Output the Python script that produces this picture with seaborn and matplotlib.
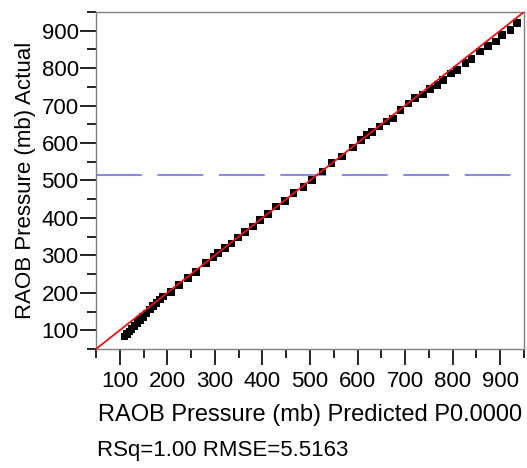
import numpy as np
import matplotlib
matplotlib.use("Agg")
import matplotlib.pyplot as plt
import matplotlib.ticker as mticker
import seaborn as sns

# ── data ─────────────────────────────────────────────────────────────────────
predicted = [110, 115, 120, 125, 131, 137, 143, 149, 156, 163, 170, 177, 184, 191,
             208, 225, 243, 260, 281, 297, 307, 321, 335, 349, 363, 380, 395, 412,
             429, 447, 465, 486, 504, 526, 545, 567, 590, 607, 619, 630, 646, 661,
             675, 690, 707, 721, 738, 752, 768, 780, 796, 809, 827, 840, 858, 874,
             891, 904, 922, 935]
actual = [83, 90, 97, 104, 112, 120, 128, 136, 145, 155, 164, 173, 182, 190,
          203, 221, 239, 256, 279, 295, 306, 319, 332, 348, 363, 377, 395, 411,
          430, 446, 466, 483, 502, 524, 546, 564, 588, 608, 622, 630, 644, 657,
          666, 688, 706, 720, 730, 744, 755, 768, 786, 795, 813, 824, 844, 859,
          871, 889, 902, 920]
fit_slope = 1.0
fit_intercept = 0.0
mean_actual = 515
rsq = 1.00
rmse = 5.5163

FONT = ["Liberation Sans", "DejaVu Sans"]
sns.set_theme(style="white")
plt.rcParams["font.family"] = FONT

fig = plt.figure(figsize=(5.27, 4.68), dpi=100)
ax = fig.add_axes([0.1822, 0.2543, 0.8121, 0.7201])

ax.axhline(mean_actual, color="#8a8af0", lw=1.5, dashes=(22, 7.5), zorder=1)
sns.scatterplot(x=predicted, y=actual, marker="s", s=30, color="black",
                edgecolor="none", ax=ax, zorder=2)
ax.axline((0, fit_intercept), slope=fit_slope, color="#ee1111", lw=1.3, zorder=3)

ax.set_xlim(50, 950)
ax.set_ylim(50, 950)
for axis in (ax.xaxis, ax.yaxis):
    axis.set_major_locator(mticker.MultipleLocator(100))
    axis.set_minor_locator(mticker.MultipleLocator(50))

ax.tick_params(which="major", direction="out", length=11.5, width=1.2,
               color="black", labelsize=16, labelcolor="black")
ax.tick_params(which="minor", direction="out", length=6.5, width=1.2, color="black")
ax.tick_params(axis="y", which="both", left=True, pad=1)
ax.tick_params(axis="x", which="both", bottom=True, pad=4)

for sp in ax.spines.values():
    sp.set_color("#808080")
    sp.set_linewidth(1)

ax.set_ylabel("RAOB Pressure (mb) Actual", fontsize=16, color="black", labelpad=4)
ax.set_xlabel("RAOB Pressure (mb) Predicted P0.0000", fontsize=17, color="black",
              labelpad=9)
ax.text(0.003, -0.318, f"RSq={rsq:.2f} RMSE={rmse:.4f}", transform=ax.transAxes,
        ha="left", va="baseline", fontsize=16, color="black")

fig.savefig("out.png", dpi=100)
